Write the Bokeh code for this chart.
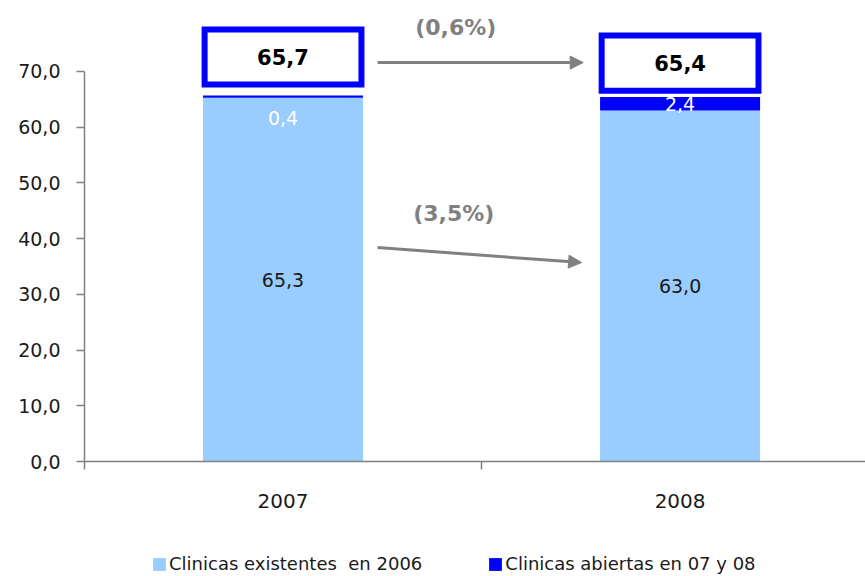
from bokeh.plotting import figure
from bokeh.layouts import column
from bokeh.models import (Range1d, FixedTicker, Legend, LegendItem, Arrow, NormalHead,
                          ColumnDataSource)
from bokeh.core.properties import value
from bokeh.embed import file_html
from bokeh.resources import INLINE

# ---- data ----
years = ["2007", "2008"]
existentes = [65.3, 63.0]          # Clinicas existentes en 2006
abiertas = [0.4, 2.4]              # Clinicas abiertas en 07 y 08
totales = [65.7, 65.4]
variaciones = ["(0,6%)", "(3,5%)"]
y_ticks = [0, 10, 20, 30, 40, 50, 60, 70]
legend_labels = ["Clinicas existentes  en 2006", "Clinicas abiertas en 07 y 08"]

# ---- annotation placement (data units) ----
box_y = [72.6, 71.5]
box_h = 9.9
label_offset_abiertas = [21, 0]     # px pushed down for label of small segment
arrow_total = (0.738, 71.6, 1.256, 71.6)
arrow_exist = (0.738, 38.4, 1.252, 35.7)
var_text_pos = [(0.935, 77.9), (0.93, 44.5)]

FONT = "DejaVu Sans"
LIGHT = "#99CCFF"
DARK = "#0000FF"
GRAY = "#808080"
TXT = "#1a1a1a"

def fmt(v):
    return f"{v:.1f}".replace(".", ",")

xs = [i + 0.5 for i in range(len(years))]
tops_exist = existentes
tops_all = [a + b for a, b in zip(existentes, abiertas)]

p = figure(width=865, height=520, output_backend="svg", toolbar_location=None,
           x_range=Range1d(0, 1.967), y_range=Range1d(0, 82.74),
           min_border_left=84, min_border_right=0, min_border_top=0,
           min_border_bottom=59)
p.outline_line_color = None
p.xgrid.visible = False
p.ygrid.visible = False

bar_w = 0.403
r1 = p.vbar(x=xs, bottom=0, top=tops_exist, width=bar_w, fill_color=LIGHT, line_color=None)
r2 = p.vbar(x=xs, bottom=tops_exist, top=tops_all, width=bar_w, fill_color=DARK, line_color=None)

# segment labels
p.text(x=xs, y=[v / 2 for v in existentes], text=[fmt(v) for v in existentes],
       text_font=value(FONT), text_font_size="19px", text_color=TXT,
       text_align="center", text_baseline="middle")
src_ab = ColumnDataSource(dict(x=xs, y=[e + a / 2 for e, a in zip(existentes, abiertas)],
                               t=[fmt(v) for v in abiertas], off=label_offset_abiertas))
p.text(x="x", y="y", text="t", y_offset="off", source=src_ab,
       text_font=value(FONT), text_font_size="19px", text_color="white",
       text_align="center", text_baseline="middle")

# total boxes
p.rect(x=xs, y=box_y, width=0.395, height=box_h, fill_color="white",
       line_color=DARK, line_width=6, line_join="miter")
p.text(x=xs, y=box_y, text=[fmt(v) for v in totales],
       text_font=value(FONT), text_font_size="21px", text_font_style="bold",
       text_color="black", text_align="center", text_baseline="middle")

# arrows and variations
for (x0, y0, x1, y1) in (arrow_total, arrow_exist):
    p.add_layout(Arrow(x_start=x0, y_start=y0, x_end=x1, y_end=y1,
                       line_color=GRAY, line_width=3,
                       end=NormalHead(size=13, fill_color=GRAY, line_color=GRAY)))
p.text(x=[t[0] for t in var_text_pos], y=[t[1] for t in var_text_pos], text=variaciones,
       text_font=value(FONT), text_font_size="22px", text_font_style="bold",
       text_color=GRAY, text_align="center", text_baseline="middle")

# y axis
ya = p.yaxis[0]
ya.ticker = FixedTicker(ticks=y_ticks)
ya.major_label_overrides = {t: fmt(t) for t in y_ticks}
ya.bounds = (0, 70)
ya.axis_line_color = GRAY
ya.axis_line_width = 1.5
ya.major_tick_line_color = GRAY
ya.major_tick_line_width = 1.5
ya.major_tick_out = 8
ya.major_tick_in = 0
ya.minor_tick_line_color = None
ya.major_label_standoff = 16
ya.major_label_text_font = FONT
ya.major_label_text_font_size = "19px"
ya.major_label_text_color = TXT

# x axis
xa = p.xaxis[0]
xa.ticker = FixedTicker(ticks=xs, minor_ticks=[0, 1, 2])
xa.major_label_overrides = {x: y for x, y in zip(xs, years)}
xa.axis_line_color = GRAY
xa.axis_line_width = 1.5
xa.major_tick_line_color = None
xa.major_tick_out = 0
xa.minor_tick_line_color = GRAY
xa.minor_tick_line_width = 1.5
xa.minor_tick_out = 8
xa.minor_tick_in = 0
xa.major_label_standoff = 24
xa.major_label_text_font = FONT
xa.major_label_text_font_size = "20px"
xa.major_label_text_color = TXT

# legend strip below the chart
lg = figure(width=865, height=56, output_backend="svg", toolbar_location=None,
            x_range=Range1d(0, 865), y_range=Range1d(0, 56),
            min_border_left=0, min_border_right=0, min_border_top=0, min_border_bottom=0)
lg.axis.visible = False
lg.grid.visible = False
lg.outline_line_color = None
g1 = lg.vbar(x=[-500], top=[-500], bottom=[-501], width=1, fill_color=LIGHT, line_color=None)
g2 = lg.vbar(x=[-500], top=[-500], bottom=[-501], width=1, fill_color=DARK, line_color=None)
legend = Legend(items=[LegendItem(label=legend_labels[0], renderers=[g1]),
                       LegendItem(label=legend_labels[1], renderers=[g2])],
                orientation="horizontal", location=(67, 2),
                glyph_width=16, glyph_height=16, label_standoff=2, spacing=65,
                label_text_font=FONT, label_text_font_size="18px",
                label_text_color=TXT, border_line_color=None,
                background_fill_alpha=0, padding=2, margin=0)
lg.add_layout(legend, "center")

open("out.html", "w").write(file_html(column(p, lg, spacing=0), INLINE))
